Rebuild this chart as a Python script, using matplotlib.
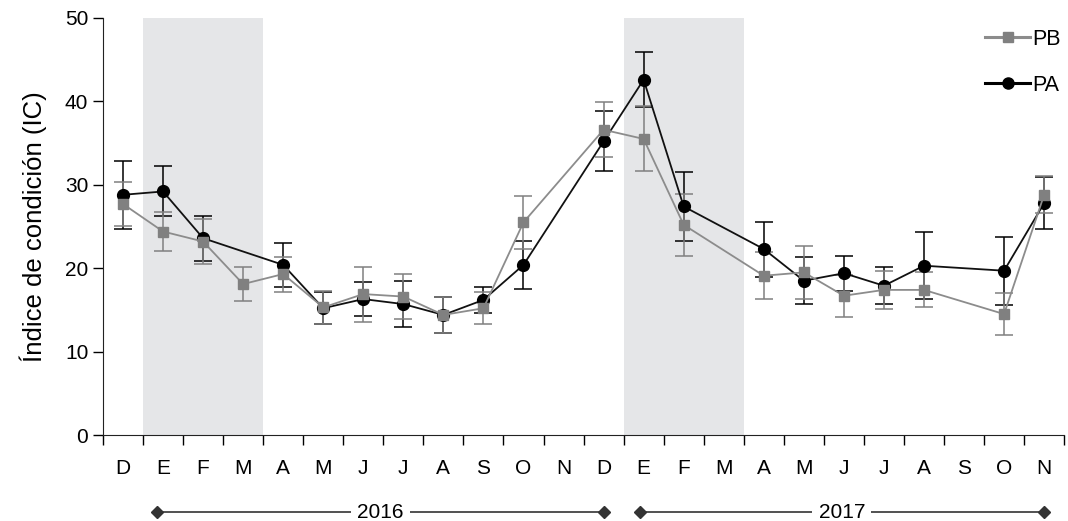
import numpy as np
import matplotlib.pyplot as plt
from matplotlib.lines import Line2D

plt.rcParams['font.family'] = ['Liberation Sans', 'DejaVu Sans']

meses = ['D', 'E', 'F', 'M', 'A', 'M', 'J', 'J', 'A', 'S', 'O', 'N',
         'D', 'E', 'F', 'M', 'A', 'M', 'J', 'J', 'A', 'S', 'O', 'N']

# indice de condicion (media y error) por mes, nan = sin muestreo
pb_ic = [27.7, 24.4, 23.2, 18.1, 19.3, 15.3, 16.9, 16.6, 14.4, 15.2, 25.5, np.nan,
         36.6, 35.5, 25.2, np.nan, 19.1, 19.5, 16.7, 17.4, 17.4, np.nan, 14.5, 28.8]
pb_err = [2.6, 2.3, 2.7, 2.0, 2.1, 2.0, 3.3, 2.7, 2.2, 1.9, 3.2, np.nan,
          3.3, 3.9, 3.7, np.nan, 2.8, 3.2, 2.5, 2.3, 2.1, np.nan, 2.5, 2.2]
pa_ic = [28.8, 29.2, 23.6, np.nan, 20.4, 15.2, 16.3, 15.7, 14.4, 16.2, 20.4, np.nan,
         35.2, 42.6, 27.4, np.nan, 22.3, 18.5, 19.4, 17.9, 20.3, np.nan, 19.7, 27.8]
pa_err = [4.1, 3.0, 2.7, np.nan, 2.6, 1.9, 2.0, 2.8, 2.2, 1.6, 2.9, np.nan,
          3.6, 3.3, 4.1, np.nan, 3.3, 2.8, 2.1, 2.2, 4.0, np.nan, 4.1, 3.1]

# meses de verano sombreados (E-M)
verano = [(0.5, 3.5), (12.5, 15.5)]
anios = [('2016', 0.85, 12.0), ('2017', 12.9, 23.0)]

fig = plt.figure(figsize=(10.68, 5.21), dpi=100)
ax = fig.add_axes([0.0964, 0.165, 0.9, 0.8005])

for a, b in verano:
    ax.axvspan(a, b, color='#e5e6e8', lw=0, zorder=0)

x = np.arange(len(meses))


def serie(y, e, color, lcolor, marker, ms, label):
    y = np.array(y)
    e = np.array(e)
    ok = ~np.isnan(y)
    ax.errorbar(x[ok], y[ok], yerr=e[ok], fmt='none', ecolor=color,
                elinewidth=1.1, capsize=6.5, capthick=1.1, zorder=2)
    ax.plot(x[ok], y[ok], color=lcolor, lw=1.3, marker=marker, ms=ms,
            mfc=color, mec=color, zorder=3, label=label)


serie(pa_ic, pa_err, 'black', '#111111', 'o', 8.5, 'PA')
serie(pb_ic, pb_err, '#808080', '#8c8c8c', 's', 7, 'PB')

ax.set_xlim(-0.5, 23.5)
ax.set_ylim(0, 50)
ax.set_yticks(range(0, 51, 10))
ax.set_xticks(x)
ax.set_xticklabels(meses)
ax.set_xticks(np.arange(-0.5, 24, 1), minor=True)
ax.tick_params(axis='x', which='major', length=0, pad=17, labelsize=15)
ax.tick_params(axis='x', which='minor', length=7, width=1, direction='out')
ax.tick_params(axis='y', length=7, width=1, direction='out', labelsize=15)
ax.spines['top'].set_visible(False)
ax.spines['right'].set_visible(False)
ax.spines['left'].set_color('#222222')
ax.spines['bottom'].set_color('#222222')
ax.set_ylabel('Índice de condición (IC)', fontsize=18.5, labelpad=13)

# barras de anio bajo el eje
for txt, a, b in anios:
    ax.plot([a, b], [-0.185, -0.185], color='#333333', lw=1.2, marker='D', ms=6,
            transform=ax.get_xaxis_transform(), clip_on=False)
    ax.text((a + b) / 2, -0.185, txt, transform=ax.get_xaxis_transform(),
            ha='center', va='center', fontsize=15,
            bbox=dict(boxstyle='square,pad=0.3', fc='white', ec='none'))

handles = [Line2D([], [], color='#8c8c8c', lw=2.2, marker='s', ms=7, mfc='#808080', mec='#808080'),
           Line2D([], [], color='black', lw=2.2, marker='o', ms=8)]
ax.legend(handles, ['PB', 'PA'], loc='upper right', bbox_to_anchor=(1.017, 1.02),
          frameon=False, fontsize=15.5, handlelength=2.1, handletextpad=0.1,
          labelspacing=1.15)

fig.savefig('out.png', dpi=100)
